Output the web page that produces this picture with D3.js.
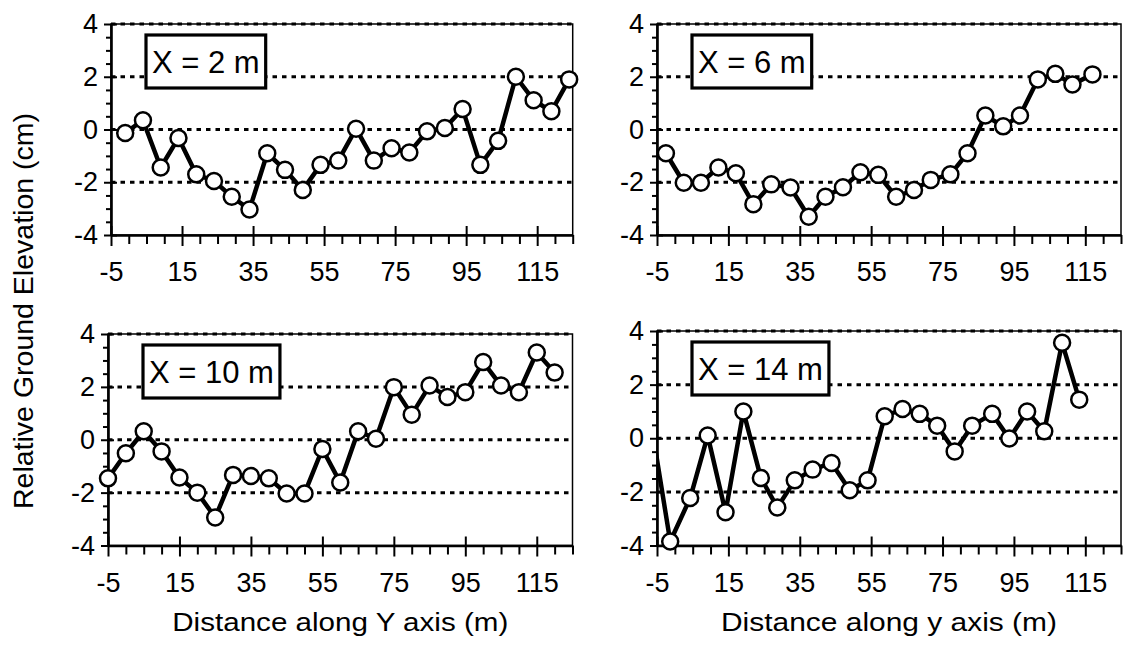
<!DOCTYPE html>
<html><head><meta charset="utf-8">
<script src="https://cdn.jsdelivr.net/npm/d3@7"></script>
<style>
html,body{margin:0;padding:0;background:#fff;}
svg{display:block;font-family:"Liberation Sans",Arial,Helvetica,sans-serif;}
</style></head><body>
<svg id="chart" width="1124" height="653"></svg>
<script>
// ---------- data ----------
const panelLabels = ["X = 2 m", "X = 6 m", "X = 10 m", "X = 14 m"];
const xTitles = ["Distance along Y axis (m)", "Distance along y axis (m)"];
const yTitle = "Relative Ground Elevation (cm)";
const xTickLabels = [-5, 15, 35, 55, 75, 95, 115];
const yTickLabels = [-4, -2, 0, 2, 4];
const gridValues = [-2, 0, 2, 4];

const x2m = [-1,4,9,14,19,24,29,34,39,44,49,54,59,64,69,74,79,84,89,94,99,104,109,114,119,124];
const y2m = [-0.13,0.35,-1.44,-0.32,-1.7,-1.95,-2.55,-3.03,-0.9,-1.53,-2.29,-1.34,-1.18,0.03,-1.18,-0.71,-0.87,-0.07,0.06,0.78,-1.34,-0.43,2.0,1.11,0.69,1.9];

const x6m = [-2.5,2.5,7.3,12.2,17.1,22,27,32.4,37.5,42.2,47.1,52,57,62,67,71.7,77.2,82,87,92,96.7,101.7,106.6,111.4,117];
const y6m = [-0.9,-2.02,-2.02,-1.44,-1.66,-2.83,-2.08,-2.2,-3.31,-2.55,-2.19,-1.62,-1.72,-2.55,-2.29,-1.91,-1.7,-0.9,0.53,0.12,0.53,1.9,2.11,1.71,2.09];

const x10m = [-5,0,5,10,15,20,25,30,35,40,45,50,55,60,65,70,75,80,85,90,95,100,105,110,115,120];
const y10m = [-1.46,-0.51,0.32,-0.44,-1.43,-2.0,-2.94,-1.33,-1.37,-1.46,-2.03,-2.03,-0.35,-1.62,0.32,0.04,1.99,0.95,2.05,1.62,1.8,2.94,2.05,1.8,3.3,2.54];

const x14m = [-6.3,-1.3,4.3,9.2,14.2,19.2,24.1,28.7,33.6,38.6,43.9,49,54,58.8,63.8,68.6,73.5,78.4,83.3,88.9,93.7,98.7,103.5,108.5,113.3];
const y14m = [0.28,-3.85,-2.23,0.1,-2.76,1.0,-1.48,-2.58,-1.57,-1.17,-0.92,-1.94,-1.57,0.82,1.09,0.91,0.47,-0.49,0.47,0.91,-0.01,1.0,0.26,3.56,1.44];

// ---------- layout ----------
const svg = d3.select("#chart");
const panels = [
  {label: panelLabels[0], xs: x2m,  ys: y2m,  left: 111,   right: 572.7, top: 24,  bottom: 235},
  {label: panelLabels[1], xs: x6m,  ys: y6m,  left: 657,   right: 1121,  top: 24,  bottom: 235},
  {label: panelLabels[2], xs: x10m, ys: y10m, left: 108,   right: 572.5, top: 334, bottom: 545.5, xTitle: xTitles[0]},
  {label: panelLabels[3], xs: x14m, ys: y14m, left: 657,   right: 1121,  top: 331, bottom: 545.5, xTitle: xTitles[1]}
];
const xDomain = [-5, 125];
const yDomain = [-4, 4];
const fmt = d => String(d);

panels.forEach((p, i) => {
  const x = d3.scaleLinear().domain(xDomain).range([p.left, p.right]);
  const y = d3.scaleLinear().domain(yDomain).range([p.bottom, p.top]);
  const g = svg.append("g");

  // frame (top/right)
  g.append("rect").attr("x", p.left).attr("y", p.top)
    .attr("width", p.right - p.left).attr("height", p.bottom - p.top)
    .attr("fill", "none").attr("stroke", "#000").attr("stroke-width", 1.5);

  // dotted grid lines
  g.selectAll("line.grid").data(gridValues).join("line").attr("class", "grid")
    .attr("x1", p.left).attr("x2", p.right)
    .attr("y1", d => y(d)).attr("y2", d => y(d))
    .attr("stroke", "#000").attr("stroke-width", 3).attr("stroke-dasharray", "4.5,5");

  // minor ticks
  const yMinor = d3.range(-4, 4.001, 0.5).filter(v => !yTickLabels.includes(v));
  const xMinor = d3.range(-5, 125.001, 5).filter(v => !xTickLabels.includes(v));
  const ym = g.append("g").attr("transform", `translate(${p.left},0)`)
    .call(d3.axisLeft(y).tickValues(yMinor).tickSize(5).tickFormat(""));
  ym.select(".domain").remove();
  const xm = g.append("g").attr("transform", `translate(0,${p.bottom})`)
    .call(d3.axisBottom(x).tickValues(xMinor).tickSize(9).tickFormat(""));
  xm.select(".domain").remove();

  // inner part of major ticks
  const yi = g.append("g").attr("transform", `translate(${p.left},0)`)
    .call(d3.axisLeft(y).tickValues(yTickLabels).tickSize(-6).tickFormat(""));
  yi.select(".domain").remove();
  const xi = g.append("g").attr("transform", `translate(0,${p.bottom})`)
    .call(d3.axisBottom(x).tickValues(xTickLabels).tickSize(-9).tickFormat(""));
  xi.select(".domain").remove();

  // main axes with labels
  const ya = g.append("g").attr("transform", `translate(${p.left},0)`)
    .call(d3.axisLeft(y).tickValues(yTickLabels).tickSize(7).tickSizeOuter(0).tickPadding(6).tickFormat(fmt));
  const xa = g.append("g").attr("transform", `translate(0,${p.bottom})`)
    .call(d3.axisBottom(x).tickValues(xTickLabels).tickSize(11).tickSizeOuter(0).tickPadding(16).tickFormat(fmt));
  [ya, xa].forEach(a => {
    a.select(".domain").attr("stroke-width", 2.6);
    a.selectAll("text").attr("font-size", 27).attr("fill", "#000")
      .attr("font-family", '"Liberation Sans",Arial,sans-serif');
  });
  g.selectAll(".tick line").attr("stroke", "#000").attr("stroke-width", 2);

  // clip for the series line
  const clipId = "clip" + i;
  svg.append("clipPath").attr("id", clipId).append("rect")
    .attr("x", p.left).attr("y", p.top - 20)
    .attr("width", p.right - p.left + 10).attr("height", p.bottom - p.top + 40);

  const pts = p.xs.map((v, k) => ({x: v, y: p.ys[k]}));
  const line = d3.line().x(d => x(d.x)).y(d => y(d.y));
  g.append("path").datum(pts).attr("d", line)
    .attr("fill", "none").attr("stroke", "#000").attr("stroke-width", 4.5)
    .attr("stroke-linejoin", "round").attr("clip-path", `url(#${clipId})`);

  g.selectAll("circle.pt").data(pts.filter(d => d.x >= xDomain[0] && d.x <= xDomain[1]))
    .join("circle").attr("class", "pt")
    .attr("cx", d => x(d.x)).attr("cy", d => y(d.y)).attr("r", 8)
    .attr("fill", "#fff").attr("stroke", "#000").attr("stroke-width", 2.5);

  // label box
  const lb = g.append("g").attr("transform", `translate(${p.left + 35},${p.top + 11})`);
  const rect = lb.append("rect");
  const t = lb.append("text").text(p.label).attr("font-size", 31).attr("fill", "#000")
    .attr("x", 6).attr("y", 38);
  const w = t.node().getComputedTextLength();
  rect.attr("x", 0).attr("y", 0).attr("width", w + 12).attr("height", 53)
    .attr("fill", "#fff").attr("stroke", "#000").attr("stroke-width", 3.2);

  if (p.xTitle) {
    svg.append("text").text(p.xTitle)
      .attr("x", (p.left + p.right) / 2).attr("y", 631)
      .attr("text-anchor", "middle").attr("font-size", 26).attr("fill", "#000")
      .attr("textLength", 336).attr("lengthAdjust", "spacingAndGlyphs");
  }
});

svg.append("text").text(yTitle)
  .attr("transform", "translate(33,311) rotate(-90)")
  .attr("text-anchor", "middle").attr("font-size", 28.5).attr("fill", "#000");
</script>
</body></html>
